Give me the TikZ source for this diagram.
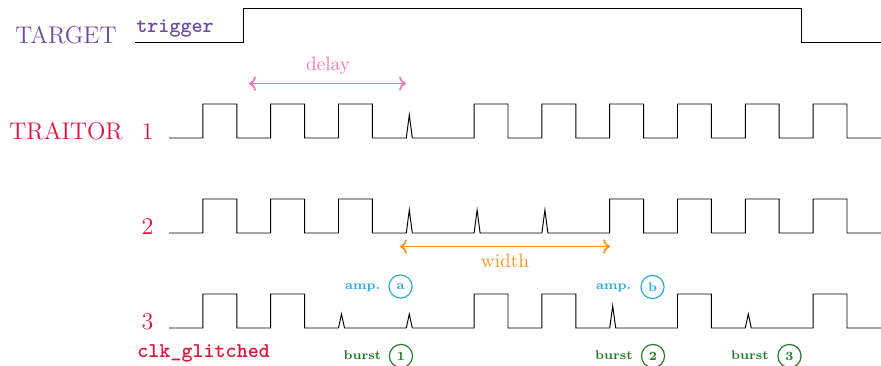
\documentclass[tikz,border=0pt]{standalone}
\usetikzlibrary{arrows.meta}
\definecolor{tgtpurple}{RGB}{107,76,160}
\definecolor{trcrimson}{RGB}{220,20,60}
\definecolor{dlpink}{RGB}{240,122,172}
\definecolor{wdorange}{RGB}{247,148,30}
\definecolor{ampcyan}{RGB}{41,168,224}
\definecolor{brgreen}{RGB}{34,122,40}
\begin{document}
\begin{tikzpicture}[x=0.5182pt,y=-0.5182pt,
  sig/.style={draw=black,line width=0.5pt,line join=miter},
  lo/.style={insert path={-- ++(33.9,0)}},
  hi/.style={insert path={-- ++(0,-34) -- ++(33.9,0) -- ++(0,34)}},
  gl/.style={insert path={-- ++(3,-#1) -- ++(3,#1) -- ++(27.9,0)}},
  bigtxt/.style={font=\fontsize{12.5}{15}\selectfont,inner sep=0pt},
  tttxt/.style={font=\fontsize{10.9}{13}\selectfont\ttfamily\bfseries,inner sep=0pt},
  meas/.style={line width=0.9pt,<->},
  tiny/.style={font=\fontsize{6.5}{8}\selectfont\bfseries,inner sep=0pt},
  circ/.style={circle,draw,line width=0.6pt,minimum size=12pt,inner sep=0pt,font=\fontsize{6.5}{8}\selectfont\bfseries},
]
\useasboundingbox (0,0) rectangle (881,366);

% TARGET
\node[bigtxt,text=tgtpurple,anchor=base west] (tgt) at (15,44) {TARGET};
\node[tttxt,text=tgtpurple,anchor=base west] (trig) at (136,33) {trigger};
\draw[sig] (135,42) -- (243,42) -- (243,8) -- (801,8) -- (801,42) -- (881,42);

% TRAITOR labels
\node[bigtxt,text=trcrimson,anchor=base west] (trai) at (9,140) {TRAITOR};
\node[bigtxt,text=trcrimson,anchor=base] (n1) at (147.5,140) {1};
\node[bigtxt,text=trcrimson,anchor=base] (n2) at (147.5,235) {2};
\node[bigtxt,text=trcrimson,anchor=base] (n3) at (147.5,330) {3};
\node[tttxt,text=trcrimson,anchor=base west] (clk) at (137,358) {clk\_glitched};

% row 1
\draw[sig] (169,138) [lo,hi,lo,hi,lo,hi,lo,gl=23,lo,hi,lo,hi,lo,hi,lo,hi,lo,hi,lo,hi,lo];
% row 2
\draw[sig] (169,233) [lo,hi,lo,hi,lo,hi,lo,gl=23,lo,gl=23,lo,gl=23,lo,hi,lo,hi,lo,hi,lo,hi,lo];
% row 3
\draw[sig] (169,328) [lo,hi,lo,hi,lo,gl=14,lo,gl=14,lo,hi,lo,hi,lo,gl=22,lo,hi,lo,gl=14,lo,hi,lo];

% delay
\coordinate (dA) at (249,83.5);
\coordinate (dB) at (406,83.5);
\draw[meas,draw=dlpink] (dA) -- (dB);
\node[text=dlpink,anchor=base,inner sep=0pt] (dly) at (328,71) {delay};

% width
\coordinate (wA) at (400,246.5);
\coordinate (wB) at (610,246.5);
\draw[meas,draw=wdorange] (wA) -- (wB);
\node[text=wdorange,anchor=base,inner sep=0pt] (wdt) at (505,268) {width};

% amplitude labels
\node[tiny,text=ampcyan,anchor=base east] (ampa) at (380.5,290) {amp.};
\node[circ,draw=ampcyan,text=ampcyan] (ca) at (400.5,286.5) {a};
\node[tiny,text=ampcyan,anchor=base east] (ampb) at (631.5,290) {amp.};
\node[circ,draw=ampcyan,text=ampcyan] (cb) at (652.5,287) {b};

% burst labels
\node[tiny,text=brgreen,anchor=base east] (b1) at (381.5,359.5) {burst};
\node[circ,draw=brgreen,text=brgreen] (c1) at (401,356) {1};
\node[tiny,text=brgreen,anchor=base east] (b2) at (633,359.5) {burst};
\node[circ,draw=brgreen,text=brgreen] (c2) at (653,356) {2};
\node[tiny,text=brgreen,anchor=base east] (b3) at (769,359.5) {burst};
\node[circ,draw=brgreen,text=brgreen] (c3) at (789.5,356) {3};
\end{tikzpicture}
\end{document}
